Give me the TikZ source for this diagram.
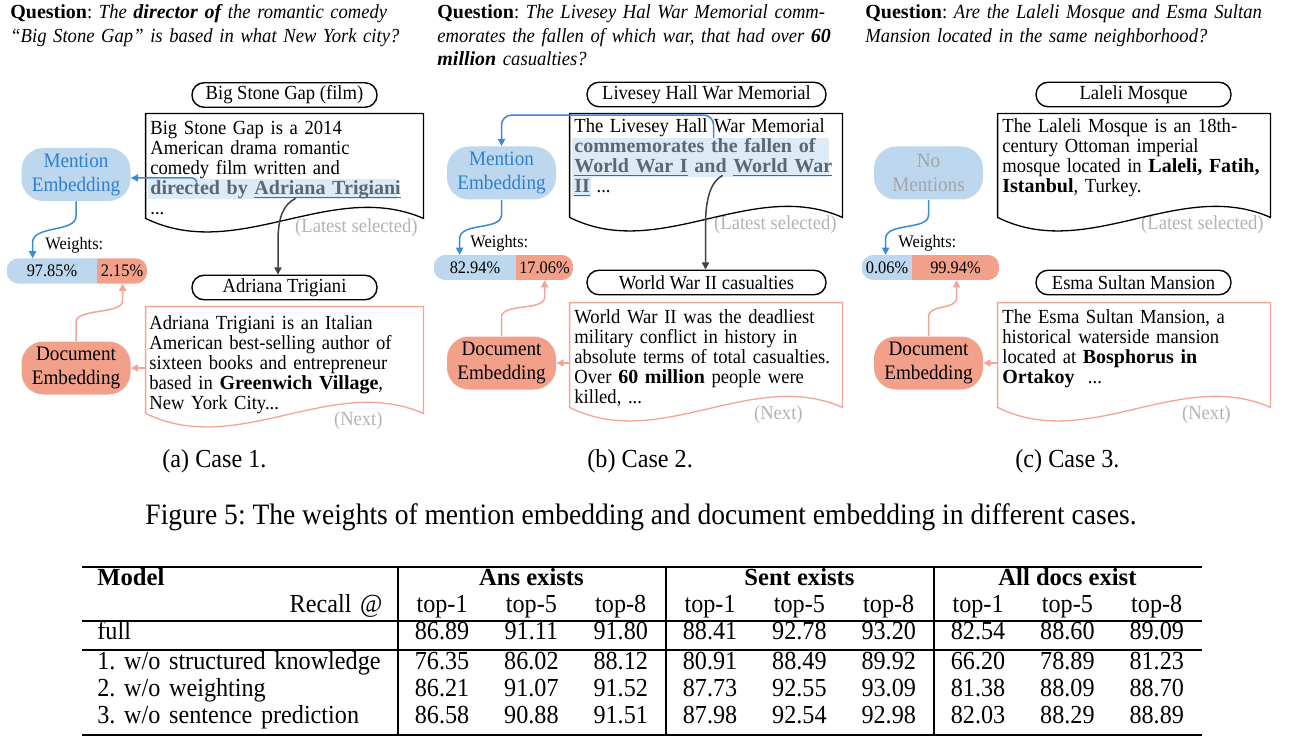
\documentclass[tikz,border=0pt]{standalone}
\usepackage{fontspec}
\setmainfont{Liberation Serif}[UprightFeatures={FakeStretch=0.93}, ItalicFeatures={FakeStretch=0.93}]
\usepackage{xcolor}
\usepackage{tikz}
\usetikzlibrary{matrix,calc,arrows.meta,backgrounds}
\frenchspacing

\definecolor{mentionfill}{HTML}{BDD7EE}
\definecolor{mentiontext}{HTML}{2E80CC}
\definecolor{arrowblue}{HTML}{3A8AD6}
\definecolor{docfill}{HTML}{F3A08B}
\definecolor{docedge}{HTML}{F3A595}
\definecolor{hlfill}{HTML}{DDEBF7}
\definecolor{hltext}{HTML}{5B6771}
\definecolor{notegrey}{HTML}{B3B3B3}
\definecolor{nomention}{HTML}{A5A5A5}
\definecolor{arrowdark}{HTML}{404040}

\newcommand{\hlwords}[1]{{\color{hltext}\bfseries #1}}
\newcommand{\hlul}[1]{\underline{\smash{#1}}}

\begin{document}
\begin{tikzpicture}[x=0.5pt, y=-0.5pt,
	every node/.style={inner sep=0pt, font=\fontsize{10pt}{10pt}\selectfont},
	question/.style={anchor=base west, text width=215pt, align=left, font=\fontsize{10pt}{11.75pt}\selectfont\itshape},
	titlebox/.style={draw, line width=0.7pt, rounded corners=6pt, minimum height=12.25pt},
	doctext/.style={anchor=base west, text width=150pt, align=left},
	docline/.style={line width=0.65pt},
	hlbox/.style={fill=hlfill},
	greynote/.style={anchor=base east, text=notegrey},
	mentemb/.style={fill=mentionfill, text=mentiontext, rounded corners=11pt, minimum width=54.5pt, minimum height=26.5pt, align=center, font=\fontsize{10.3pt}{12pt}\selectfont},
	docemb/.style={fill=docfill, rounded corners=11pt, minimum width=54.5pt, minimum height=26.5pt, align=center, font=\fontsize{10.3pt}{12pt}\selectfont},
	wlabel/.style={anchor=base west, font=\fontsize{8.8pt}{8.8pt}\selectfont},
	wpart/.style={minimum height=12.25pt, font=\fontsize{8.8pt}{8.8pt}\selectfont},
	subcap/.style={anchor=base west, font=\fontsize{13pt}{13pt}\selectfont},
	marr/.style={draw=arrowblue, line width=0.75pt, -{Triangle[length=3.6pt,width=3.6pt]}},
	darr/.style={draw=docedge, line width=0.75pt, -{Triangle[length=3.6pt,width=3.6pt]}},
	karr/.style={draw=arrowdark, line width=0.75pt, -{Triangle[length=3.6pt,width=3.6pt]}},
	tabcell/.style={inner xsep=0pt, inner ysep=0pt, minimum width=44.667pt, text height=9.25pt, text depth=4.25pt, font=\fontsize{13pt}{13pt}\selectfont},
	tabhead/.style={tabcell, font=\fontsize{12.3pt}{12.3pt}\selectfont\bfseries},
	tabrule/.style={line width=1pt}]

	\path[use as bounding box] (0,0) rectangle (1293,753);
	\begin{scope}[on background layer]
		\fill[white] (0,0) rectangle (1293,753);
	\end{scope}

	\node[question] (a-q) at (10,19) {{\upshape\bfseries Question}{\upshape :} The \textbf{director of} the romantic comedy\\“Big Stone Gap” is based in what New York city?};
	\node[titlebox, minimum width=92.5pt] (a-t1) at (284.5,95) {Big Stone Gap (film)};
	\node[minimum width=138.5pt, minimum height=52pt] (a-doc) at (284.5,166) {};
	\node[hlbox, minimum width=124.5pt, minimum height=10pt] (a-hl) at (272.5,189) {};
	\node[doctext] (a-txt) at (150,135) {Big Stone Gap is a 2014\\American drama romantic\\comedy film written and\\\hlwords{directed by \hlul{Adriana Trigiani}}\\...};
	\node[greynote] (a-lat) at (418,233) {(Latest selected)};
	\node[mentemb] (a-me) at (76,174.5) {Mention\\Embedding};
	\node[wlabel] (a-wl) at (45,250) {Weights:};
	\node[wpart, minimum width=45pt] (a-wm) at (52,271) {97.85\%};
	\node[wpart, minimum width=25pt] (a-wd) at (122,271) {2.15\%};
	\node[docemb] (a-de) at (76,368) {Document\\Embedding};
	\node[titlebox, minimum width=92.5pt] (a-t2) at (284.5,287.5) {Adriana Trigiani};
	\node[minimum width=138.5pt, minimum height=53pt] (a-doc2) at (284.5,360) {};
	\node[doctext] (a-txt2) at (149,329) {Adriana Trigiani is an Italian\\American best-selling author of\\sixteen books and entrepreneur\\based in \textbf{Greenwich Village},\\New York City...};
	\node[greynote] (a-next) at (383,425) {(Next)};
	\node[subcap] (a-cap) at (162,467) {(a) Case 1.};

	\begin{scope}[on background layer]
		\begin{scope}
			\clip[rounded corners=6pt] (a-wm.north west) rectangle (a-wd.south east);
			\fill[mentionfill] (a-wm.north west) rectangle (a-wm.south east);
			\fill[docfill] (a-wd.north west) rectangle (a-wd.south east);
		\end{scope}
	\end{scope}
	\draw[docline] (a-doc.north west) -- (a-doc.north east) -- (a-doc.south east) .. controls +(-92,-40) and +(92,45) .. (a-doc.south west) -- cycle;
	\draw[docline, draw=docedge] (a-doc2.north west) -- (a-doc2.north east) -- (a-doc2.south east) .. controls +(-92,-40) and +(92,45) .. (a-doc2.south west) -- cycle;
	\draw[marr, rounded corners=2pt] ($(a-hl.north west)+(49,4)$) |- ($(a-me.east)+(0,3.5)$);
	\draw[marr] (a-me.south) -- ++(0,15) .. controls +(0,16) and +(0,-17) .. ($(a-wm.north west)+(26,-16)$) -- ($(a-wm.north west)+(26,0)$);
	\draw[darr] (a-de.north) -- ++(0,-19) .. controls +(0,-14) and +(0,14) .. ($(a-wd.south west)+(26,17)$) -- ($(a-wd.south west)+(26,0)$);
	\draw[darr] (a-doc2.west |- a-de.east) -- (a-de.east);
	\draw[karr] ($(a-hl.south west)+(148,-1)$) .. controls +(-12,6) and +(0,-25) .. ($(a-t2.north)+(-6.5,-33)$) -- ($(a-t2.north)+(-6.5,0)$);

	\node[question] (b-q) at (437,19) {{\upshape\bfseries Question}{\upshape :} The Livesey Hal War Memorial comm-\\emorates the fallen of which war, that had over \textbf{60}\\\textbf{million} casualties?};
	\node[titlebox, minimum width=119.5pt] (b-t1) at (706.5,94.5) {Livesey Hall War Memorial};
	\node[minimum width=136pt, minimum height=51.5pt] (b-doc) at (706,165.5) {};
	\node[hlbox, minimum width=128.5pt, minimum height=19.5pt] (b-hl) at (700.5,157.5) {};
	\node[hlbox, minimum width=9.5pt, minimum height=10pt] (b-hl2) at (581.5,187) {};
	\node[doctext] (b-txt) at (574,133) {The Livesey Hall War Memorial\\\hlwords{commemorates the fallen of}\\\hlwords{\hlul{World War I} and \hlul{World War}}\\\hlwords{\hlul{II}} ...};
	\node[greynote] (b-lat) at (837,230) {(Latest selected)};
	\node[mentemb] (b-me) at (501.5,173) {Mention\\Embedding};
	\node[wlabel] (b-wl) at (470,248) {Weights:};
	\node[wpart, minimum width=41pt] (b-wm) at (475,267.5) {82.94\%};
	\node[wpart, minimum width=28.5pt] (b-wd) at (544.5,267.5) {17.06\%};
	\node[docemb] (b-de) at (501.5,363) {Document\\Embedding};
	\node[titlebox, minimum width=119.5pt] (b-t2) at (706.5,282.5) {World War II casualties};
	\node[minimum width=136pt, minimum height=52pt] (b-doc2) at (706,355) {};
	\node[doctext] (b-txt2) at (574,323) {World War II was the deadliest\\military conflict in history in\\absolute terms of total casualties.\\Over \textbf{60 million} people were\\killed, ...};
	\node[greynote] (b-next) at (803,419) {(Next)};
	\node[subcap] (b-cap) at (587,467) {(b) Case 2.};

	\begin{scope}[on background layer]
		\begin{scope}
			\clip[rounded corners=6pt] (b-wm.north west) rectangle (b-wd.south east);
			\fill[mentionfill] (b-wm.north west) rectangle (b-wm.south east);
			\fill[docfill] (b-wd.north west) rectangle (b-wd.south east);
		\end{scope}
	\end{scope}
	\draw[docline] (b-doc.north west) -- (b-doc.north east) -- (b-doc.south east) .. controls +(-90,-40) and +(90,45) .. (b-doc.south west) -- cycle;
	\draw[docline, draw=docedge] (b-doc2.north west) -- (b-doc2.north east) -- (b-doc2.south east) .. controls +(-90,-40) and +(90,45) .. (b-doc2.south west) -- cycle;
	\draw[marr, rounded corners=5pt] ($(b-hl.north west)+(142,0)$) |- ($(b-me.north)+(0,-31)$) -- (b-me.north);
	\draw[marr] (b-me.south) -- ++(0,15) .. controls +(0,16) and +(0,-17) .. ($(b-wm.north west)+(26,-16)$) -- ($(b-wm.north west)+(26,0)$);
	\draw[darr] (b-de.north) -- ++(0,-19) .. controls +(0,-14) and +(0,14) .. ($(b-wd.south west)+(29,17)$) -- ($(b-wd.south west)+(29,0)$);
	\draw[darr] (b-doc2.west |- b-de.east) -- (b-de.east);
	\draw[karr] ($(b-hl.south west)+(151,-2)$) .. controls +(-12,6) and +(0,-25) .. ($(b-t2.north)+(-1,-45)$) -- ($(b-t2.north)+(-1,0)$);

	\node[question] (c-q) at (865,19) {{\upshape\bfseries Question}{\upshape :} Are the Laleli Mosque and Esma Sultan\\Mansion located in the same neighborhood?};
	\node[titlebox, minimum width=97.5pt] (c-t1) at (1133.5,94.5) {Laleli Mosque};
	\node[minimum width=136pt, minimum height=51.5pt] (c-doc) at (1134,165.5) {};
	\node[doctext] (c-txt) at (1002,133) {The Laleli Mosque is an 18th-\\century Ottoman imperial\\mosque located in \textbf{Laleli, Fatih,}\\\textbf{Istanbul}, Turkey.};
	\node[greynote] (c-lat) at (1264,230) {(Latest selected)};
	\node[mentemb, text=nomention] (c-me) at (928.5,173) {No\\Mentions};
	\node[wlabel] (c-wl) at (898,248) {Weights:};
	\node[wpart, minimum width=25pt] (c-wm) at (887,267.5) {0.06\%};
	\node[wpart, minimum width=43.5pt] (c-wd) at (955.5,267.5) {99.94\%};
	\node[docemb] (c-de) at (928.5,363) {Document\\Embedding};
	\node[titlebox, minimum width=97.5pt] (c-t2) at (1133.5,282.5) {Esma Sultan Mansion};
	\node[minimum width=136pt, minimum height=52pt] (c-doc2) at (1134,355) {};
	\node[doctext] (c-txt2) at (1002,323) {The Esma Sultan Mansion, a\\historical waterside mansion\\located at \textbf{Bosphorus in}\\\textbf{Ortakoy}~ ...};
	\node[greynote] (c-next) at (1231,419) {(Next)};
	\node[subcap] (c-cap) at (1015,467) {(c) Case 3.};

	\begin{scope}[on background layer]
		\begin{scope}
			\clip[rounded corners=6pt] (c-wm.north west) rectangle (c-wd.south east);
			\fill[mentionfill] (c-wm.north west) rectangle (c-wm.south east);
			\fill[docfill] (c-wd.north west) rectangle (c-wd.south east);
		\end{scope}
	\end{scope}
	\draw[docline] (c-doc.north west) -- (c-doc.north east) -- (c-doc.south east) .. controls +(-90,-40) and +(90,45) .. (c-doc.south west) -- cycle;
	\draw[docline, draw=docedge] (c-doc2.north west) -- (c-doc2.north east) -- (c-doc2.south east) .. controls +(-90,-40) and +(90,45) .. (c-doc2.south west) -- cycle;
	\draw[marr] (c-me.south) -- ++(0,15) .. controls +(0,16) and +(0,-17) .. ($(c-wm.north west)+(24,-16)$) -- ($(c-wm.north west)+(24,0)$);
	\draw[darr] (c-de.north) -- ++(0,-19) .. controls +(0,-14) and +(0,14) .. ($(c-wd.south west)+(45,17)$) -- ($(c-wd.south west)+(45,0)$);
	\draw[darr] (c-doc2.west |- c-de.east) -- (c-de.east);

	\node[anchor=base, font=\fontsize{14.8pt}{14.8pt}\selectfont] (fig-cap) at (641,524) {Figure 5: The weights of mention embedding and document embedding in different cases.};

	\matrix (tab) [matrix of nodes, anchor=north west, inner sep=0pt, column sep=0pt, row sep=0pt, nodes={tabcell}, column 1/.style={nodes={text width=142.5pt, inner xsep=7.5pt, align=left}}] at (82,566.5) {
		|[tabhead]|Model &&&&&&&&& \\
		|[align=right]|Recall @ & top-1 & top-5 & top-8 & top-1 & top-5 & top-8 & top-1 & top-5 & top-8 \\
		full & 86.89 & 91.11 & 91.80 & 88.41 & 92.78 & 93.20 & 82.54 & 88.60 & 89.09 \\[1.5pt]
		\mbox{1. w/o structured knowledge} & 76.35 & 86.02 & 88.12 & 80.91 & 88.49 & 89.92 & 66.20 & 78.89 & 81.23 \\
		2. w/o weighting & 86.21 & 91.07 & 91.52 & 87.73 & 92.55 & 93.09 & 81.38 & 88.09 & 88.70 \\
		\mbox{3. w/o sentence prediction} & 86.58 & 90.88 & 91.51 & 87.98 & 92.54 & 92.98 & 82.03 & 88.29 & 88.89 \\
	};
	\node[tabhead] (tab-ans) at (tab-2-3 |- tab-1-1) {Ans exists};
	\node[tabhead] (tab-sent) at (tab-2-6 |- tab-1-1) {Sent exists};
	\node[tabhead] (tab-all) at (tab-2-9 |- tab-1-1) {All docs exist};
	\draw[tabrule] (tab.north west) -- (tab.north east);
	\draw[tabrule] (tab-2-1.south west) -- (tab-2-1.south west -| tab.east);
	\draw[tabrule] ($(tab-4-1.north west)+(0,-0.5)$) -- ($(tab-4-1.north west -| tab.east)+(0,-0.5)$);
	\draw[tabrule] ($(tab.south west)+(0,2.5)$) -- ($(tab.south east)+(0,2.5)$);
	\draw[tabrule] (tab-2-1.east |- tab.north) -- ($(tab-2-1.east |- tab.south)+(0,2.5)$);
	\draw[tabrule] (tab-2-4.east |- tab.north) -- ($(tab-2-4.east |- tab.south)+(0,2.5)$);
	\draw[tabrule] (tab-2-7.east |- tab.north) -- ($(tab-2-7.east |- tab.south)+(0,2.5)$);
\end{tikzpicture}
\end{document}
